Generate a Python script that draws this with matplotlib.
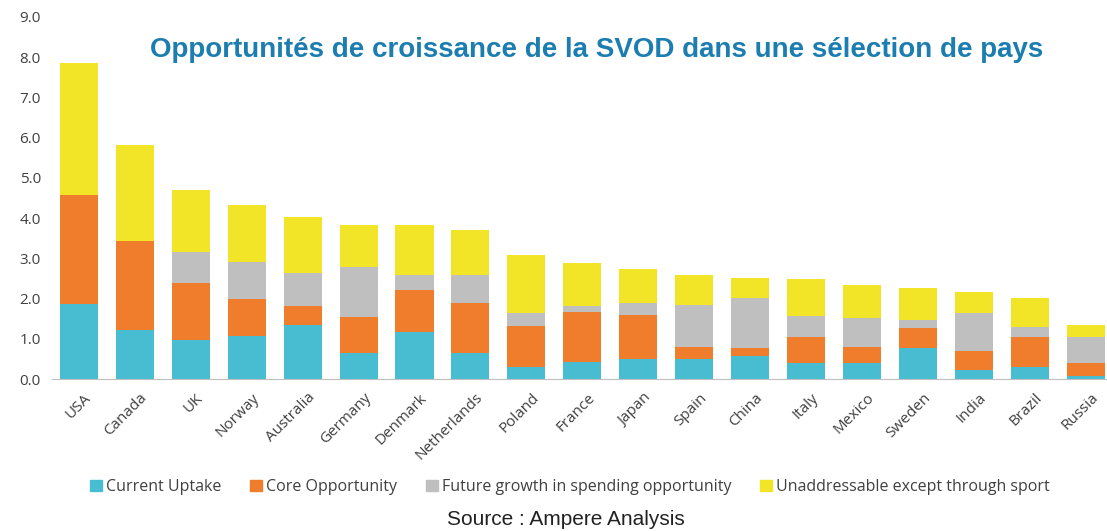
"""Stacked bars: SVOD growth opportunities by country"""

import matplotlib.pyplot as plt
from matplotlib.patches import Patch
from matplotlib.transforms import ScaledTranslation

countries = ['USA', 'Canada', 'UK', 'Norway', 'Australia', 'Germany', 'Denmark',
             'Netherlands', 'Poland', 'France', 'Japan', 'Spain', 'China', 'Italy',
             'Mexico', 'Sweden', 'India', 'Brazil', 'Russia']

# cumulative tops, converted to segment sizes below
current_uptake = [1.87, 1.22, 0.97, 1.07, 1.35, 0.65, 1.17, 0.65, 0.30, 0.42,
                  0.50, 0.50, 0.58, 0.39, 0.39, 0.77, 0.22, 0.30, 0.08]
core_top = [4.57, 3.43, 2.38, 1.99, 1.82, 1.55, 2.21, 1.89, 1.32, 1.66,
            1.59, 0.79, 0.77, 1.04, 0.80, 1.27, 0.70, 1.04, 0.39]
future_top = [4.57, 3.43, 3.15, 2.92, 2.63, 2.79, 2.60, 2.60, 1.64, 1.81,
              1.89, 1.84, 2.01, 1.56, 1.51, 1.46, 1.64, 1.29, 1.04]
total = [7.86, 5.83, 4.69, 4.34, 4.02, 3.83, 3.83, 3.70, 3.08, 2.88,
         2.73, 2.60, 2.52, 2.48, 2.33, 2.26, 2.16, 2.01, 1.35]

core_opportunity = [c - u for c, u in zip(core_top, current_uptake)]
future_growth = [f - c for f, c in zip(future_top, core_top)]
unaddressable = [t - f for t, f in zip(total, future_top)]

series = [
    ('Current Uptake', current_uptake, '#48BDD2'),
    ('Core Opportunity', core_opportunity, '#F07D2B'),
    ('Future growth in spending opportunity', future_growth, '#BFBFBF'),
    ('Unaddressable except through sport', unaddressable, '#F2E528'),
]

fig = plt.figure(figsize=(11.07, 5.31), dpi=100)
ax = fig.add_axes([0.047, 0.286, 0.953, 0.682])

x = list(range(len(countries)))
bottom = [0.0] * len(countries)
for name, vals, color in series:
    ax.bar(x, vals, bottom=bottom, width=0.68, color=color, label=name)
    bottom = [b + v for b, v in zip(bottom, vals)]

ax.set_ylim(0, 9)
ax.set_xlim(-0.48, 18.38)
ax.set_yticks([i for i in range(10)])
ax.set_yticklabels([f'{i:.1f}' for i in range(10)], fontsize=11,
                   color='#404040', family='Open Sans')
ax.set_xticks(x)
ax.set_xticklabels(countries, rotation=45, ha='right', rotation_mode='anchor',
                   fontsize=11, color='#404040', family='Open Sans')
ax.tick_params(axis='x', length=0, pad=8)
ax.tick_params(axis='y', length=0, pad=8)
shift = ScaledTranslation(5 / 100, 0, fig.dpi_scale_trans)
for lbl in ax.get_xticklabels():
    lbl.set_transform(lbl.get_transform() + shift)
for side in ['top', 'right', 'left']:
    ax.spines[side].set_visible(False)
ax.spines['bottom'].set_color('#BFBFBF')

fig.text(0.539, 0.906, 'Opportunités de croissance de la SVOD dans une sélection de pays',
         ha='center', va='center', fontsize=20, fontweight='bold',
         color='#1C7DB0', family='Liberation Sans')

handles = [Patch(color=c, label=n) for n, _, c in series]
leg = fig.legend(handles=handles, loc='center', bbox_to_anchor=(0.515, 0.083),
                 ncol=4, frameon=False, handlelength=0.75, handleheight=0.7,
                 handletextpad=0.25, columnspacing=1.8,
                 prop={'family': 'Open Sans', 'size': 11.5})
for t in leg.get_texts():
    t.set_color('#404040')

fig.text(0.511, 0.022, 'Source : Ampere Analysis', ha='center', va='center',
         fontsize=15, color='#222222', family='Liberation Sans')

fig.savefig('out.png', dpi=100)
